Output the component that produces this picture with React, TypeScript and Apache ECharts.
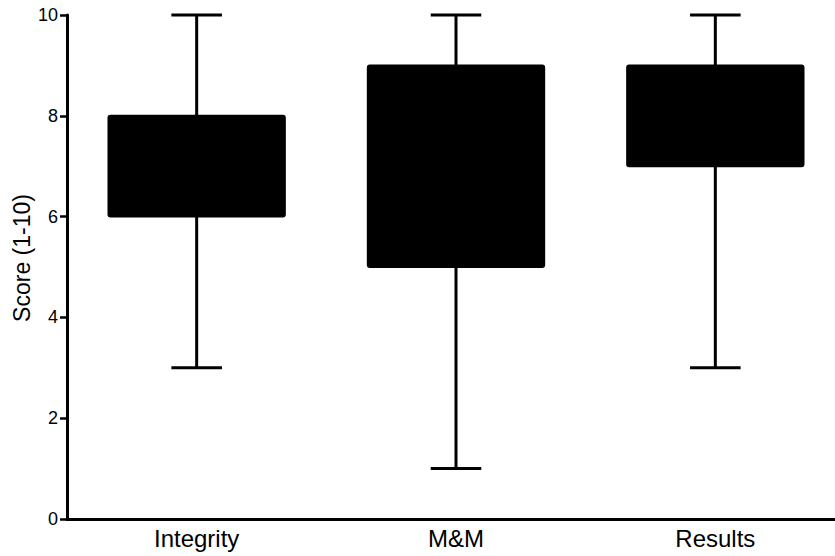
import React, { useEffect, useRef } from "react";
import * as echarts from "echarts";

const categories = ["Integrity", "M&M", "Results"];
const mins = [3, 1, 3];
const q1s = [6, 5, 7];
const medians = [7, 7, 8];
const q3s = [8, 9, 9];
const maxs = [10, 10, 10];
const yTicks = [0, 2, 4, 6, 8, 10];

const FONT = "'Liberation Sans', Arial, sans-serif";

export default function App() {
  const ref = useRef<HTMLDivElement>(null);
  useEffect(() => {
    if (!ref.current) return;
    const chart = echarts.init(ref.current, undefined, { renderer: "svg" });
    const data = categories.map((_, i) => [i, mins[i], q1s[i], medians[i], q3s[i], maxs[i]]);
    chart.setOption({
      animation: false,
      grid: { left: 67, right: 0, top: 15, bottom: 37, containLabel: false, outerBoundsMode: "none" },
      xAxis: {
        type: "category",
        data: categories,
        boundaryGap: true,
        axisLine: { lineStyle: { color: "#000", width: 3 } },
        axisTick: { alignWithLabel: true, length: 6, lineStyle: { color: "#000", width: 2.5 } },
        axisLabel: { color: "#000", fontSize: 24, fontFamily: FONT, margin: 7 },
        splitLine: { show: false },
      },
      yAxis: {
        type: "value",
        min: yTicks[0],
        max: yTicks[yTicks.length - 1],
        interval: 2,
        name: "Score (1-10)",
        nameLocation: "middle",
        nameGap: 34,
        nameMoveOverlap: false,
        nameTextStyle: { color: "#000", fontSize: 23, fontFamily: FONT, padding: [0, 0, 0, 18] },
        axisLine: { show: true, lineStyle: { color: "#000", width: 3 } },
        axisTick: { show: true, length: 7, lineStyle: { color: "#000", width: 2.5 } },
        axisLabel: { color: "#000", fontSize: 18, fontFamily: FONT, margin: 9 },
        splitLine: { show: false },
      },
      series: [
        {
          type: "custom",
          data,
          encode: { x: 0, y: [1, 2, 3, 4, 5] },
          renderItem: (params: any, api: any) => {
            const x = api.value(0);
            const pMin = api.coord([x, api.value(1)]);
            const pQ1 = api.coord([x, api.value(2)]);
            const pMed = api.coord([x, api.value(3)]);
            const pQ3 = api.coord([x, api.value(4)]);
            const pMax = api.coord([x, api.value(5)]);
            const band = api.size([1, 0])[0];
            const boxW = band * 0.68;
            const capW = band * 0.195;
            const cx = pMin[0];
            const lineStyle = { stroke: "#000", lineWidth: 3, fill: null };
            return {
              type: "group",
              children: [
                { type: "line", shape: { x1: cx, y1: pMax[1], x2: cx, y2: pQ3[1] }, style: lineStyle },
                { type: "line", shape: { x1: cx, y1: pQ1[1], x2: cx, y2: pMin[1] }, style: lineStyle },
                { type: "line", shape: { x1: cx - capW / 2, y1: pMax[1], x2: cx + capW / 2, y2: pMax[1] }, style: lineStyle },
                { type: "line", shape: { x1: cx - capW / 2, y1: pMin[1], x2: cx + capW / 2, y2: pMin[1] }, style: lineStyle },
                {
                  type: "rect",
                  shape: { x: cx - boxW / 2, y: pQ3[1], width: boxW, height: pQ1[1] - pQ3[1], r: 2 },
                  style: { fill: "#000", stroke: "#000", lineWidth: 2 },
                },
                { type: "line", shape: { x1: cx - boxW / 2, y1: pMed[1], x2: cx + boxW / 2, y2: pMed[1] }, style: { stroke: "#000", lineWidth: 2 } },
              ],
            };
          },
        },
      ],
    });
    return () => chart.dispose();
  }, []);
  return (
    <div style={{ width: 835, height: 556, position: "absolute", left: 0, top: 0, overflow: "hidden", background: "#fff" }}>
      <div ref={ref} style={{ width: 845, height: 556 }} />
    </div>
  );
}
